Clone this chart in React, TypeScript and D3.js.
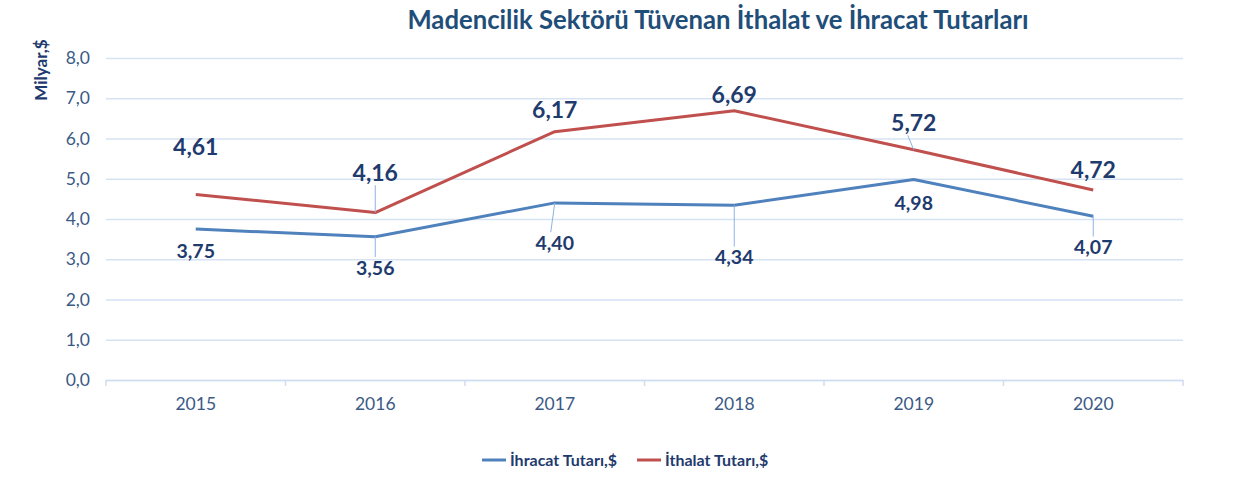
import React, { useEffect, useRef } from 'react';
import * as d3 from 'd3';

const years = ['2015', '2016', '2017', '2018', '2019', '2020'];
const ihracat = [3.75, 3.56, 4.40, 4.34, 4.98, 4.07];
const ithalat = [4.61, 4.16, 6.17, 6.69, 5.72, 4.72];
const yTicks = [0, 1, 2, 3, 4, 5, 6, 7, 8];

// label placement (manually nudged like the original)
const ithalatDy = [-47, -40, -22, -16, -27, -20];
const ihracatDy = [22, 31, 40, 52, 24, 31];
const ithalatLeader = [false, true, false, false, true, false];
const ihracatLeader = [false, true, true, true, false, true];

const App: React.FC = () => {
    const svgRef = useRef<SVGSVGElement | null>(null);

    const width = 1251;
    const height = 482;

    const marginTop = 58;
    const marginRight = 68;
    const marginBottom = 102;
    const marginLeft = 106;

    const navy = '#1F3B6E';
    const font = 'Lato, "Open Sans", sans-serif';

    useEffect(() => {
        const svg = d3.select(svgRef.current);
        svg.selectAll('*').remove();

        const x = d3.scaleBand().domain(years).range([marginLeft, width - marginRight]);
        const y = d3.scaleLinear().domain([0, 8]).range([height - marginBottom, marginTop]);
        const cx = (i: number) => (x(years[i]) as number) + x.bandwidth() / 2;

        svg.append('rect').attr('width', width).attr('height', height).attr('fill', '#fff');

        // title
        svg.append('text')
            .attr('x', 718).attr('y', 29)
            .attr('text-anchor', 'middle')
            .attr('font-family', font).attr('font-weight', 700).attr('font-size', 25.7)
            .attr('fill', '#1F4E79')
            .text('Madencilik Sektörü Tüvenan İthalat ve İhracat Tutarları');

        // y axis title
        svg.append('text')
            .attr('transform', `translate(47, 70) rotate(-90)`)
            .attr('text-anchor', 'middle')
            .attr('font-family', font).attr('font-weight', 700).attr('font-size', 17)
            .attr('fill', navy)
            .text('Milyar,$');

        // grid + y ticks
        svg.append('g')
            .attr('transform', `translate(${marginLeft}, 0)`)
            .call(d3.axisLeft(y).tickValues(yTicks).tickSize(0).tickPadding(16)
                .tickFormat(d => d3.format('.1f')(d as number).replace('.', ',')))
            .call(g => g.select('.domain').remove())
            .call(g => g.selectAll('.tick text')
                .attr('font-family', font).attr('font-size', 17.5).attr('fill', '#3B5A86'))
            .call(g => g.selectAll('.tick').append('line')
                .attr('x2', width - marginLeft - marginRight)
                .attr('stroke', '#D6E3F3').attr('stroke-width', 1.3));

        // x axis
        svg.append('g')
            .attr('transform', `translate(0, ${height - marginBottom})`)
            .call(d3.axisBottom(x).tickSize(0).tickPadding(18))
            .call(g => g.select('.domain').attr('stroke', '#CFDDEF').attr('stroke-width', 1.5))
            .call(g => g.selectAll('.tick text')
                .attr('font-family', font).attr('font-size', 17.5).attr('fill', '#3B5A86'));

        const xAxisLines = svg.append('g');
        d3.range(years.length + 1).forEach(i => {
            const xx = marginLeft + i * x.bandwidth();
            xAxisLines.append('line')
                .attr('x1', xx).attr('x2', xx)
                .attr('y1', height - marginBottom).attr('y2', height - marginBottom + 6)
                .attr('stroke', '#CFDDEF').attr('stroke-width', 1.5);
        });

        const line = d3.line<number>()
            .x((_, i) => cx(i))
            .y(d => y(d));

        const series = [
            { values: ihracat, color: '#4F81BD', dy: ihracatDy, leader: ihracatLeader, size: 19.5 },
            { values: ithalat, color: '#C0504D', dy: ithalatDy, leader: ithalatLeader, size: 23 },
        ];

        series.forEach(s => {
            svg.append('path')
                .datum(s.values)
                .attr('fill', 'none')
                .attr('stroke', s.color)
                .attr('stroke-width', 3)
                .attr('stroke-linejoin', 'round')
                .attr('d', line);
        });

        series.forEach(s => {
            s.values.forEach((v, i) => {
                const px = cx(i);
                const py = y(v);
                const ly = py + s.dy[i];
                if (s.leader[i]) {
                    const half = s.size * 0.55;
                    const end = s.dy[i] < 0 ? ly + half : ly - half;
                    svg.append('line')
                        .attr('x1', px).attr('y1', py)
                        .attr('x2', px - (i === 4 ? 6 : i === 2 ? 4 : 0)).attr('y2', end)
                        .attr('stroke', '#8DB3E2').attr('stroke-width', 1);
                }
                svg.append('text')
                    .attr('x', px).attr('y', ly)
                    .attr('dy', '0.35em')
                    .attr('text-anchor', 'middle')
                    .attr('font-family', font).attr('font-weight', 700).attr('font-size', s.size)
                    .attr('fill', navy)
                    .text(d3.format('.2f')(v).replace('.', ','));
            });
        });

        // legend
        const legend = [
            { name: 'İhracat Tutarı,$', color: '#4F81BD', x: 482 },
            { name: 'İthalat Tutarı,$', color: '#C0504D', x: 637 },
        ];
        legend.forEach(l => {
            svg.append('line')
                .attr('x1', l.x).attr('x2', l.x + 24)
                .attr('y1', 460).attr('y2', 460)
                .attr('stroke', l.color).attr('stroke-width', 3);
            svg.append('text')
                .attr('x', l.x + 28).attr('y', 460).attr('dy', '0.35em')
                .attr('font-family', font).attr('font-weight', 700).attr('font-size', 16)
                .attr('fill', navy)
                .text(l.name);
        });
    }, []);

    return (
        <svg ref={svgRef} viewBox={`0 0 ${width} ${height}`} width={width} height={height}
            style={{ position: 'absolute', left: 0, top: 0 }}></svg>
    );
};

export default App;
